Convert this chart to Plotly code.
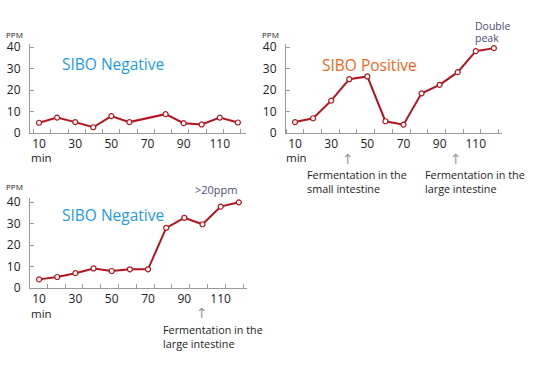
import plotly.graph_objects as go

W, H = 539, 372

# ---- data ----
neg1_x = [10, 20, 30, 40, 50, 60, 80, 90, 100, 110, 120]
neg1_y = [4.8, 7.2, 5.1, 2.7, 7.9, 5.1, 8.8, 4.6, 4.0, 7.2, 4.9]

pos_x = [10, 20, 30, 40, 50, 60, 70, 80, 90, 100, 110, 120]
pos_y = [5.1, 6.9, 15.1, 25.1, 26.4, 5.5, 3.9, 18.5, 22.5, 28.4, 38.2, 39.6]

neg2_x = [10, 20, 30, 40, 50, 60, 70, 80, 90, 100, 110, 120]
neg2_y = [4.0, 5.1, 6.9, 9.1, 7.9, 8.7, 8.7, 28.0, 32.7, 29.7, 37.9, 39.9]

x_ticks = [10, 30, 50, 70, 90, 110]
y_ticks = [0, 10, 20, 30, 40]

LINE = "#b3141e"
AX = "#9a9a9a"
TXT = "#222222"
NOTE = "#4c4c7a"
FONT = "Open Sans"

fig = go.Figure()


def px_x(p):
    return p / W


def px_y(p):
    return 1 - p / H


panels = [
    # (xs, ys, xdomain px, ydomain px (top,bottom), yrange top, minor tick0, minor dtick)
    (neg1_x, neg1_y, (30, 246), (40, 132), 41.3, 16.5, 9.55),
    (pos_x, pos_y, (286, 502), (40, 132), 41.3, 14.8, 9.8),
    (neg2_x, neg2_y, (30, 247), (200, 293), 41.7, 14.5, 9.8),
]

for i, (xs, ys, xd, yd, ytop, t0, dt) in enumerate(panels):
    n = "" if i == 0 else str(i + 1)
    fig.add_trace(go.Scatter(
        x=xs, y=ys, mode="lines+markers",
        line=dict(color=LINE, width=2),
        marker=dict(size=5, color="white", line=dict(color=LINE, width=1.2)),
        xaxis="x" + n, yaxis="y" + n, showlegend=False, hoverinfo="skip",
    ))
    fig.layout["xaxis" + n] = dict(
        domain=[px_x(xd[0]), px_x(xd[1])], range=[5, 124.5], anchor="y" + n,
        showgrid=False, zeroline=False, showline=True, linecolor=AX, linewidth=1,
        tickvals=x_ticks, ticks="", ticklabelstandoff=0,
        tickfont=dict(family=FONT, size=12, color=TXT),
        minor=dict(tick0=t0, dtick=dt, ticks="inside", ticklen=4, tickcolor=AX, showgrid=False),
        fixedrange=True,
    )
    fig.layout["yaxis" + n] = dict(
        domain=[px_y(yd[1]), px_y(yd[0])], range=[0, ytop], anchor="x" + n,
        showgrid=False, zeroline=False, showline=True, linecolor=AX, linewidth=1,
        tickvals=y_ticks, ticks="inside", ticklen=4, tickcolor=AX, ticklabelstandoff=6,
        tickfont=dict(family=FONT, size=12, color=TXT),
        fixedrange=True,
    )

annots = [
    # text, x px, y px, size, color, xanchor, family
    ("PPM", 14, 30, 8, TXT, "center", FONT),
    ("PPM", 270, 30, 8, TXT, "center", FONT),
    ("PPM", 14, 188, 8, TXT, "center", FONT),
    ("min", 41, 157.5, 11.5, TXT, "center", FONT),
    ("min", 297, 157.5, 11.5, TXT, "center", FONT),
    ("min", 41, 319.5, 11.5, TXT, "center", FONT),
    ("SIBO Negative", 113, 60, 15.5, "#1e9ce4", "center", FONT),
    ("SIBO Positive", 369, 61, 15.5, "#f0661e", "center", FONT),
    ("SIBO Negative", 113, 217, 15.5, "#1e9ce4", "center", FONT),
    ("Double", 474, 21, 10.5, NOTE, "left", FONT),
    ("peak", 474, 33, 10.5, NOTE, "left", FONT),
    (">20ppm", 216, 191, 11, NOTE, "center", FONT),
    ("↑", 348, 159.5, 14, "#9a9a9a", "center", "DejaVu Sans"),
    ("↑", 456, 159.5, 14, "#9a9a9a", "center", "DejaVu Sans"),
    ("↑", 202, 319.5, 14, "#9a9a9a", "center", "DejaVu Sans"),
    ("Fermentation in the", 306, 175.5, 10.8, TXT, "left", FONT),
    ("small intestine", 306, 189.5, 10.8, TXT, "left", FONT),
    ("Fermentation in the", 424, 175.5, 10.8, TXT, "left", FONT),
    ("large intestine", 424, 189.5, 10.8, TXT, "left", FONT),
    ("Fermentation in the", 162, 336.5, 10.8, TXT, "left", FONT),
    ("large intestine", 162, 350.5, 10.8, TXT, "left", FONT),
]

for text, x, y, size, color, xa, fam in annots:
    fig.add_annotation(
        text=text, x=px_x(x), y=px_y(y), xref="paper", yref="paper",
        xanchor=xa, yanchor="middle", showarrow=False, align="left",
        borderpad=0, font=dict(family=fam, size=size, color=color),
    )

fig.update_layout(
    width=W, height=H, margin=dict(l=0, r=0, t=0, b=0),
    paper_bgcolor="white", plot_bgcolor="white",
)

fig.write_html(
    "out.html", config=dict(displayModeBar=False),
    post_script="document.body.style.margin='0';document.body.style.padding='0';",
)
